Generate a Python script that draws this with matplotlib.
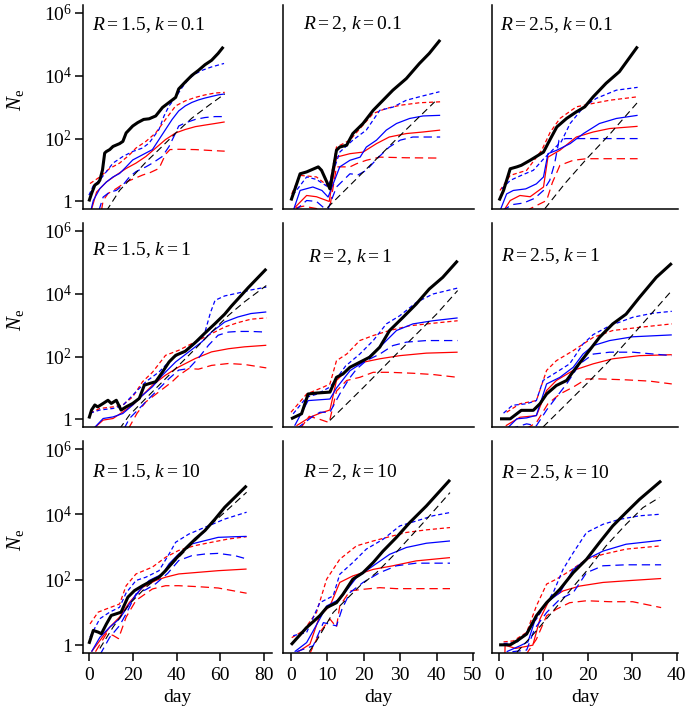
import numpy as np
import matplotlib
matplotlib.use("Agg")
import matplotlib.pyplot as plt

plt.rcParams['font.family'] = ['Liberation Serif', 'DejaVu Serif']
plt.rcParams['mathtext.fontset'] = 'custom'
plt.rcParams['mathtext.rm'] = 'Liberation Serif'
plt.rcParams['mathtext.it'] = 'Liberation Serif:italic'
plt.rcParams['lines.scale_dashes'] = False

# ---------------- data: (day, log10 N_e) ----------------
R_values = ['1.5', '2', '2.5']
k_values = ['0.1', '1', '10']
x_ticks = [[0, 20, 40, 60, 80], [0, 10, 20, 30, 40, 50], [0, 10, 20, 30, 40]]
y_ticks = [1, 1e2, 1e4, 1e6]
y_ticklabels = ['1', r'$10^2$', r'$10^4$', r'$10^6$']

# R=1.5, k=0.1
r15_k01_obs = [(0,0.0),(1.2,0.25),(2.7,0.52),(4.2,0.59),(5,0.68),(6.2,1.0),(7.2,1.54),(8,1.59),(9.5,1.65),(11,1.75),(14,1.84),(15.5,1.91),(17,2.18),(20,2.4),(22.3,2.51),(25,2.61),(27.5,2.63),(30.5,2.72),(33.6,2.99),(36.6,3.15),(39.6,3.31),(41,3.58),(44,3.8),(47,4.01),(50,4.17),(53,4.35),(56,4.49),(59,4.71),(61.4,4.92)]
r15_k01_det = [(8,-0.3),(14,0.35),(20,0.8),(26,1.25),(33,1.72),(40,2.2),(47,2.65),(55,3.07),(62,3.42)]
r15_k01_blue_med = [(0.5,-0.4),(2,0.03),(5,0.41),(8,0.62),(11,0.78),(14,0.89),(17,1.1),(20,1.32),(23,1.43),(26,1.54),(29,1.65),(32,1.97),(35,2.29),(38,2.61),(41,2.88),(44,3.04),(47,3.15),(50,3.23),(53,3.29),(56,3.34),(59,3.39),(62,3.42)]
r15_k01_blue_hi = [(0,0.2),(2,0.5),(5,0.68),(8,0.95),(11,1.22),(15.5,1.43),(20,1.59),(24.5,1.7),(27.5,1.86),(32,2.29),(34.3,2.72),(36.6,3.04),(39.6,3.31),(42.6,3.63),(45.6,3.9),(48.6,4.06),(51.6,4.17),(56,4.28),(61.7,4.39)]
r15_k01_blue_lo = [(4.5,-0.3),(6.5,0.14),(9.5,0.3),(12.5,0.35),(15.5,0.52),(18.5,0.78),(21.5,0.95),(26,1.1),(29,1.22),(33.5,1.43),(36.6,1.75),(39.6,2.18),(41,2.4),(44,2.5),(48.6,2.61),(53,2.67),(57.6,2.7),(62,2.7)]
r15_k01_red_med = [(1,-0.3),(3.5,0.3),(8,0.62),(12.5,0.84),(17,1.05),(21.5,1.22),(26,1.43),(30.5,1.7),(35,1.97),(39.6,2.18),(44,2.29),(48.6,2.38),(53,2.43),(57.6,2.48),(62,2.53)]
r15_k01_red_hi = [(0.5,0.57),(5,0.78),(9.5,1.05),(14,1.22),(18.5,1.48),(21.5,1.7),(26,1.91),(30.5,2.18),(35,2.61),(39.6,3.04),(44,3.2),(48.6,3.31),(53,3.39),(57.6,3.45),(62,3.47)]
r15_k01_red_lo = [(5.7,-0.3),(6.5,0.03),(8.7,0.25),(12.5,0.41),(17,0.62),(20.8,0.73),(24.5,0.84),(28,0.92),(32,1.05),(35,1.5),(37,1.65),(41,1.66),(48.6,1.65),(56,1.62),(62,1.6)]

# R=2, k=0.1
r2_k01_obs = [(0,0.03),(2.5,0.88),(4.3,0.94),(7.5,1.1),(8.4,0.99),(10.7,0.4),(12.5,1.63),(13.4,1.73),(15.3,1.79),(17,2.16),(19.8,2.48),(22.6,2.9),(25.3,3.22),(28,3.54),(31.7,3.91),(35.3,4.39),(38,4.71),(41,5.14)]
r2_k01_det = [(10,-0.2),(12,0.03),(20,0.95),(30,2.1),(39.5,3.17)]
r2_k01_blue_med = [(0.6,-0.3),(2.5,0.35),(6,0.46),(8.5,0.35),(10.2,0.14),(13.4,1.1),(16.2,1.31),(19,1.41),(20.7,1.73),(23.5,1.95),(26.2,2.27),(29,2.48),(32.6,2.64),(36.3,2.72),(41,2.74)]
r2_k01_blue_hi = [(0.5,0.2),(4.3,0.78),(7,0.7),(10.2,0.46),(13.4,1.57),(17,1.95),(20.7,2.27),(24.4,2.9),(28,3.0),(31.7,3.22),(35.3,3.33),(40.8,3.49)]
r2_k01_blue_lo = [(1,-0.3),(4.3,0.03),(7,0.0),(10,-0.3),(12.5,0.46),(16.2,0.88),(18.5,0.85),(20.7,0.99),(24,1.4),(27,1.73),(30,1.95),(33.5,2.05),(37,2.05),(41,2.05)]
r2_k01_red_med = [(1,-0.2),(4.3,0.19),(7,0.15),(10.5,0.0),(12.5,1.41),(16.2,1.52),(19.8,1.57),(23.5,1.84),(27,2.05),(31.7,2.16),(36.3,2.21),(41,2.27)]
r2_k01_red_hi = [(0.2,0.24),(2.5,0.83),(7,0.78),(10.5,0.46),(12.5,1.73),(16.2,1.95),(19.8,2.43),(22.6,2.8),(26.2,2.96),(30,3.06),(35.3,3.14),(41,3.17)]
r2_k01_red_lo = [(1.4,-0.2),(3.4,-0.15),(10.5,-0.3),(12.5,1.1),(16.2,1.1),(18,1.2),(20.7,1.31),(24.4,1.41),(31.7,1.39),(41,1.38)]

# R=2.5, k=0.1
r25_k01_obs = [(0,0.03),(1,0.35),(2.5,1.04),(4,1.1),(5,1.15),(7,1.31),(10,1.57),(11.4,1.95),(13,2.37),(15.2,2.64),(17.4,2.85),(19.3,3.01),(21.2,3.33),(24.1,3.76),(27.1,4.13),(31.2,4.93)]
r25_k01_det = [(10.3,-0.23),(15,0.6),(20,1.4),(25,2.15),(31.6,3.22)]
r25_k01_blue_med = [(0.2,-0.3),(1.7,0.24),(3.2,0.35),(6,0.4),(8.4,0.56),(10,0.78),(11,1.52),(13,1.63),(16,1.84),(19,2.16),(22.6,2.48),(26.4,2.64),(31.2,2.74)]
r25_k01_blue_hi = [(0.6,0.4),(2.5,0.67),(5,0.83),(7.7,0.99),(10,1.35),(12.5,1.7),(14,1.9),(16,2.48),(19,3.0),(21.9,3.28),(26.4,3.54),(31.2,3.63)]
r25_k01_blue_lo = [(0.6,-0.3),(3,-0.1),(5.5,-0.05),(8,0.1),(10,0.35),(11.4,0.67),(12.5,1.2),(13.5,1.95),(15,2.0),(18.2,2.0),(21.2,2.0),(26,2.0),(31.2,2.0)]
r25_k01_red_med = [(1,-0.3),(2.5,0.03),(4.7,0.19),(7,0.15),(10,0.46),(11,1.41),(13.7,1.63),(17.4,2.05),(21.2,2.21),(24.9,2.32),(31.2,2.39)]
r25_k01_red_hi = [(0.2,0.35),(2.5,0.83),(6.2,0.99),(9.6,1.63),(11.5,2.2),(13.7,2.64),(17.4,3.01),(21.2,3.12),(24.9,3.22),(31.2,3.33)]
r25_k01_red_lo = [(6,-0.3),(10.7,0.03),(12,0.6),(13.7,1.15),(16.7,1.31),(19.7,1.36),(24,1.36),(31.2,1.36)]

# R=1.5, k=1
r15_k1_obs = [(0,0.03),(1.2,0.3),(2.7,0.46),(4,0.4),(6.5,0.51),(8.7,0.61),(10.2,0.51),(12.5,0.61),(14.7,0.3),(17,0.4),(20,0.51),(23,0.67),(25.3,1.09),(27.5,1.14),(30.5,1.2),(33.6,1.51),(36.6,1.83),(39.6,2.04),(44,2.17),(48.6,2.45),(53,2.75),(57.6,3.05),(62,3.35),(65,3.6),(72.7,4.19),(81,4.79)]
r15_k1_det = [(14,-0.3),(18.5,0.14),(26,0.67),(33.6,1.2),(41,1.72),(48.6,2.25),(56,2.78),(63.7,3.31),(71,3.74),(81,4.26)]
r15_k1_blue_med = [(2,-0.3),(6.5,0.03),(11,0.08),(15.5,0.19),(20,0.46),(24.5,0.77),(29,1.04),(33.6,1.41),(39.6,1.83),(45.6,2.15),(51.6,2.47),(56,2.78),(62,3.1),(68,3.26),(74,3.37),(81,3.42)]
r15_k1_blue_hi = [(0.5,0.2),(5,0.3),(11,0.35),(15.5,0.45),(21.5,0.88),(26,1.2),(32,1.51),(38,1.94),(45.6,2.25),(51.6,2.6),(53,2.78),(55.5,3.4),(57.6,3.79),(62,3.93),(68,4.02),(74,4.12),(81,4.21)]
r15_k1_blue_lo = [(16,-0.3),(18.5,0.03),(23,0.35),(27.5,0.67),(32,0.98),(36.6,1.3),(41,1.57),(45.6,1.62),(50,1.95),(54.6,2.36),(59,2.68),(63.7,2.78),(68,2.8),(74,2.8),(81,2.78)]
r15_k1_red_med = [(2,-0.3),(6.5,-0.02),(11,0.03),(15.5,0.24),(20,0.46),(24.5,0.77),(29,1.09),(35,1.41),(41,1.67),(48.6,1.94),(56,2.15),(63.7,2.25),(71,2.31),(81,2.36)]
r15_k1_red_hi = [(0.5,0.2),(5,0.35),(11,0.4),(15.5,0.46),(20,0.72),(24.5,1.2),(29,1.5),(35,2.04),(41,2.2),(48.6,2.47),(56,2.73),(62,2.94),(68,3.08),(74,3.19),(81,3.23)]
r15_k1_red_lo = [(18,-0.3),(22,0.2),(26,0.56),(32,0.88),(38,1.2),(41,1.4),(45.6,1.62),(50,1.6),(56,1.72),(63.7,1.78),(71,1.75),(81,1.64)]

# R=2, k=1
r2_k1_obs = [(0,0.02),(2.9,0.18),(4.7,0.81),(7,0.84),(10.7,0.87),(12.5,1.34),(14.3,1.45),(16.2,1.66),(18.9,1.82),(21.6,1.98),(24.4,2.3),(27.1,2.83),(30.8,3.25),(34.4,3.67),(38,4.15),(41.7,4.52),(45.8,5.05)]
r2_k1_det = [(10.7,-0.03),(20,1.03),(30,2.2),(40,3.35),(45.8,4.1)]
r2_k1_blue_med = [(1,-0.2),(4.7,0.6),(10.7,0.65),(12.5,1.0),(16.2,1.55),(19.8,1.82),(24.4,2.3),(29,2.83),(33.5,3.04),(39,3.14),(45.8,3.23)]
r2_k1_blue_hi = [(0.6,0.18),(4.3,0.71),(7,0.8),(10.7,1.03),(12.5,1.3),(15,1.7),(18.9,2.08),(22.6,2.51),(26.2,3.04),(29.9,3.3),(34.4,3.72),(39,3.99),(45.8,4.18)]
r2_k1_blue_lo = [(1.5,-0.3),(6,0.1),(8,0.23),(10.7,0.23),(13.4,0.81),(16,1.3),(18,1.6),(20.7,1.87),(24.4,2.08),(28,2.35),(31.7,2.46),(37.2,2.51),(45.8,2.51)]
r2_k1_red_med = [(1.5,-0.2),(5.2,0.07),(8,0.2),(10.7,0.3),(12.5,1.24),(16.2,1.66),(19.8,1.82),(24.4,1.93),(29.9,2.03),(37.2,2.11),(45.8,2.14)]
r2_k1_red_hi = [(0,0.23),(4.3,0.81),(8.9,1.03),(10.7,1.13),(12.5,1.87),(15.3,2.08),(18.9,2.51),(22.6,2.67),(27.1,2.83),(32.6,2.98),(39,3.06),(45.8,3.14)]
r2_k1_red_lo = [(2.5,-0.3),(5,0.1),(8,0.0),(10.5,-0.1),(12.5,0.9),(15.3,1.24),(18.9,1.34),(22.6,1.5),(27.1,1.5),(33.5,1.47),(39,1.43),(45.8,1.34)]

# R=2.5, k=1
r25_k1_obs = [(0.2,0.02),(2.5,0.02),(5,0.29),(7.7,0.29),(9.2,0.5),(10.7,0.81),(12.9,1.08),(15.2,1.24),(17.4,1.66),(19.7,2.08),(22.6,2.61),(25.6,3.04),(28.6,3.35),(31.6,3.88),(35.4,4.52),(38.9,4.97)]
r25_k1_det = [(9.9,-0.24),(13.7,0.29),(19.7,1.13),(25.6,1.98),(31.6,2.93),(38.9,4.1)]
r25_k1_blue_med = [(1.7,-0.3),(4,0.02),(6.2,0.05),(8.4,0.13),(10.7,1.13),(13.7,1.34),(16.7,1.66),(18.9,2.08),(21.2,2.35),(24.9,2.51),(30.1,2.63),(38.9,2.69)]
r25_k1_blue_hi = [(1,0.2),(3,0.45),(6.2,0.5),(8.4,0.6),(9.9,1.24),(12.9,1.5),(15.9,1.77),(18.9,2.4),(21.2,2.7),(24.9,2.98),(30.1,3.25),(34.6,3.38),(38.9,3.44)]
r25_k1_blue_lo = [(2.5,-0.3),(6.2,-0.14),(8.4,-0.2),(10.7,0.3),(12.9,0.71),(15.2,1.13),(18.2,1.77),(21.2,2.08),(24.9,2.14),(30.1,2.14),(38.9,2.03)]
r25_k1_red_med = [(1.5,-0.2),(4.7,0.07),(8.4,0.12),(10.7,0.92),(12.9,1.24),(16.7,1.56),(21.2,1.77),(25.6,1.93),(31.6,2.03),(38.9,2.06)]
r25_k1_red_hi = [(1.7,0.23),(4.7,0.5),(8.4,0.6),(10.7,1.56),(12.9,1.87),(16.7,2.19),(21.2,2.61),(25.6,2.83),(31.6,2.93),(38.9,3.04)]
r25_k1_red_lo = [(6,-0.3),(8.4,-0.1),(11,0.5),(13.7,0.81),(16.7,1.03),(19.7,1.29),(22.6,1.29),(28.6,1.26),(33.9,1.22),(38.9,1.13)]

# R=1.5, k=10
r15_k10_obs = [(0,0.04),(2,0.45),(4.2,0.4),(5.7,0.35),(8,0.65),(10.2,0.91),(12.5,0.96),(14.7,1.01),(17.8,1.47),(20.8,1.67),(24.5,1.82),(29,1.98),(32,2.08),(35,2.28),(39.6,2.64),(44,2.95),(48.6,3.25),(53,3.51),(57.6,3.86),(62,4.22),(66.7,4.53),(72,4.88)]
r15_k10_det = [(5,-0.1),(11,0.55),(18.5,1.26),(26,1.77),(33.6,2.18),(41,2.69),(48.6,3.2),(56,3.71),(63.7,4.17),(72,4.68)]
r15_k10_blue_med = [(1.2,-0.2),(5,0.24),(9.5,0.55),(14,0.81),(18.5,1.26),(23,1.67),(27.5,1.98),(33.6,2.18),(36.6,2.49),(41,2.79),(47,3.1),(53,3.2),(59,3.3),(66.7,3.32),(72,3.33)]
r15_k10_blue_hi = [(0.5,0.25),(5,0.81),(9.5,1.01),(14,1.16),(17,1.6),(21.5,1.98),(26,2.08),(32,2.28),(36.6,2.79),(39.6,3.15),(45.6,3.4),(53,3.61),(56,3.69),(62,3.86),(72,4.07)]
r15_k10_blue_lo = [(5,-0.3),(9.5,0.24),(14,0.6),(17,0.96),(21.5,1.57),(26,1.7),(30.5,1.88),(36,2.2),(41,2.59),(47,2.74),(53,2.79),(59,2.81),(66.7,2.74),(72,2.64)]
r15_k10_red_med = [(1.2,-0.2),(5,0.14),(9.5,0.55),(14,0.86),(18.5,1.31),(24.5,1.77),(30.5,1.98),(35,2.08),(41,2.18),(50,2.23),(59,2.28),(72,2.33)]
r15_k10_red_hi = [(0.5,0.65),(4.2,1.01),(8,1.11),(14,1.26),(17,1.82),(21.5,2.18),(29,2.39),(35,2.69),(41,2.9),(48.6,3.05),(56,3.15),(63.7,3.25),(72,3.32)]
r15_k10_red_lo = [(3,-0.2),(8,0.35),(11,0.3),(13.5,0.2),(17,0.86),(21.5,1.37),(29,1.72),(35,1.82),(41,1.82),(50,1.79),(59,1.75),(72,1.59)]

# R=2, k=10
r2_k10_obs = [(0,0.01),(4.3,0.54),(7.9,0.9),(9.8,1.15),(12.5,1.3),(14.3,1.56),(17,2.02),(19.8,2.22),(22.6,2.53),(25.3,2.88),(28.9,3.29),(32.6,3.75),(37.2,4.26),(43.7,5.06)]
r2_k10_det = [(5,-0.2),(7,0.13),(11.6,1.0),(15.3,1.41),(18.9,1.81),(23.5,2.22),(28,2.73),(32.6,3.29),(37.2,3.85),(43.7,4.67)]
r2_k10_blue_med = [(1,-0.2),(4.3,0.08),(7.9,0.8),(9.8,1.2),(13.4,1.41),(18,2.07),(22.6,2.43),(27.1,2.78),(31.7,2.99),(37.2,3.12),(43.7,3.19)]
r2_k10_blue_hi = [(0.6,0.29),(4.3,0.39),(7.9,1.3),(11.6,1.51),(13.4,2.17),(17,2.53),(20.7,2.94),(25.3,3.24),(29.9,3.65),(34.4,3.8),(39,3.96),(43.7,4.06)]
r2_k10_blue_lo = [(1.5,-0.2),(6.1,-0.02),(8.9,0.69),(12.5,0.59),(14,1.1),(16.2,1.61),(19.8,1.92),(24.4,2.22),(29,2.43),(34.4,2.51),(43.7,2.51)]
r2_k10_red_med = [(2,-0.2),(5.2,0.03),(7.9,0.9),(10.7,1.2),(13.4,1.92),(17,2.12),(22.6,2.32),(28,2.43),(34.4,2.58),(43.7,2.68)]
r2_k10_red_hi = [(0.2,0.23),(3.4,0.44),(7,1.0),(9.8,2.02),(13.4,2.63),(18,3.04),(22.6,3.19),(27.1,3.32),(31.7,3.45),(37.2,3.53),(43.7,3.6)]
r2_k10_red_lo = [(5,-0.3),(7.9,0.39),(10.7,0.8),(12.5,0.55),(13.4,1.2),(16.2,1.66),(19.8,1.71),(24.4,1.76),(29,1.73),(34.4,1.73),(43.7,1.73)]

# R=2.5, k=10
r25_k10_obs = [(0,0.01),(2.5,0.01),(4,0.13),(6.2,0.34),(8.4,0.9),(10.7,1.3),(13.7,1.71),(16.7,2.22),(19.7,2.63),(22.6,3.14),(25.6,3.65),(28.6,4.06),(31.6,4.46),(36.5,5.03)]
r25_k10_det = [(4,-0.22),(8.4,0.44),(12.2,1.05),(15.9,1.66),(19.7,2.27),(24.1,3.04),(28.6,3.7),(32.4,4.21),(36.1,4.52)]
r25_k10_blue_med = [(1.7,-0.2),(4.7,-0.02),(6.5,0.1),(8.4,0.9),(10.7,1.3),(13.7,1.61),(16.7,2.32),(19.7,2.63),(23.4,2.88),(28.6,3.09),(36.5,3.21)]
r25_k10_blue_hi = [(1,0.05),(4,0.08),(6.2,0.39),(8.4,0.8),(12.2,1.61),(14.4,2.32),(16.7,2.83),(19.7,3.45),(23.4,3.7),(27.1,3.85),(31.6,3.96),(36.5,4.01)]
r25_k10_blue_lo = [(3,-0.2),(6.2,-0.15),(8,0.5),(10.7,1.0),(13.7,1.41),(16.7,1.61),(19.7,2.22),(23.4,2.43),(28.6,2.46),(36.5,2.46)]
r25_k10_red_med = [(1.3,-0.3),(1.35,0.0),(3.7,-0.1),(7.6,0.0),(9.2,0.8),(11.4,1.41),(14.4,1.66),(18.2,1.81),(23.4,1.92),(28.6,1.97),(36.5,2.04)]
r25_k10_red_hi = [(1,0.1),(3.2,0.13),(6.2,0.39),(8.4,1.2),(10.7,1.87),(12.9,2.02),(15.9,2.27),(19.7,2.63),(23.4,2.78),(28.6,2.94),(36.5,3.04)]
r25_k10_red_lo = [(6,-0.3),(8.4,0.18),(10.7,0.9),(12.9,1.1),(15.9,1.3),(19.7,1.36),(24.9,1.33),(30.1,1.33),(36.5,1.15)]

panels = [
    [dict(obs=r15_k01_obs, det=r15_k01_det, bm=r15_k01_blue_med, bh=r15_k01_blue_hi, bl=r15_k01_blue_lo, rm=r15_k01_red_med, rh=r15_k01_red_hi, rl=r15_k01_red_lo),
     dict(obs=r2_k01_obs, det=r2_k01_det, bm=r2_k01_blue_med, bh=r2_k01_blue_hi, bl=r2_k01_blue_lo, rm=r2_k01_red_med, rh=r2_k01_red_hi, rl=r2_k01_red_lo),
     dict(obs=r25_k01_obs, det=r25_k01_det, bm=r25_k01_blue_med, bh=r25_k01_blue_hi, bl=r25_k01_blue_lo, rm=r25_k01_red_med, rh=r25_k01_red_hi, rl=r25_k01_red_lo)],
    [dict(obs=r15_k1_obs, det=r15_k1_det, bm=r15_k1_blue_med, bh=r15_k1_blue_hi, bl=r15_k1_blue_lo, rm=r15_k1_red_med, rh=r15_k1_red_hi, rl=r15_k1_red_lo),
     dict(obs=r2_k1_obs, det=r2_k1_det, bm=r2_k1_blue_med, bh=r2_k1_blue_hi, bl=r2_k1_blue_lo, rm=r2_k1_red_med, rh=r2_k1_red_hi, rl=r2_k1_red_lo),
     dict(obs=r25_k1_obs, det=r25_k1_det, bm=r25_k1_blue_med, bh=r25_k1_blue_hi, bl=r25_k1_blue_lo, rm=r25_k1_red_med, rh=r25_k1_red_hi, rl=r25_k1_red_lo)],
    [dict(obs=r15_k10_obs, det=r15_k10_det, bm=r15_k10_blue_med, bh=r15_k10_blue_hi, bl=r15_k10_blue_lo, rm=r15_k10_red_med, rh=r15_k10_red_hi, rl=r15_k10_red_lo),
     dict(obs=r2_k10_obs, det=r2_k10_det, bm=r2_k10_blue_med, bh=r2_k10_blue_hi, bl=r2_k10_blue_lo, rm=r2_k10_red_med, rh=r2_k10_red_hi, rl=r2_k10_red_lo),
     dict(obs=r25_k10_obs, det=r25_k10_det, bm=r25_k10_blue_med, bh=r25_k10_blue_hi, bl=r25_k10_blue_lo, rm=r25_k10_red_med, rh=r25_k10_red_hi, rl=r25_k10_red_lo)],
]

# ---------------- layout (figure pixels) ----------------
W, H = 686, 711
col_px = [(83, 272), (283, 474), (492, 678)]
row_px = [(5, 209), (223, 427), (441, 653)]
xlims = [(-2.7, 83.6), (-2.2, 50.3), (-1.6, 40.3)]
ylims = (10 ** -0.24, 10 ** 6.25)
title_px = [[(92, 25), (303, 24), (500, 25)],
            [(92, 250), (308, 257), (501, 256)],
            [(92, 472), (303, 472), (501, 473)]]
ylabel_px = [(16, 100), (16, 320), (16, 540)]
xlabel_y_px = 697

styles = {
    'rl': dict(color='red', lw=0.9, dashes=(6, 3.5)),
    'rh': dict(color='red', lw=0.9, dashes=(3, 2)),
    'rm': dict(color='red', lw=0.9, ls='-'),
    'bl': dict(color='blue', lw=0.9, dashes=(6, 3.5)),
    'bh': dict(color='blue', lw=0.9, dashes=(3, 2)),
    'bm': dict(color='blue', lw=0.9, ls='-'),
    'det': dict(color='black', lw=0.8, dashes=(5, 3)),
    'obs': dict(color='black', lw=2.2, ls='-'),
}

fig = plt.figure(figsize=(W / 100, H / 100), dpi=100)
tick_fs = 14

for i in range(3):
    for j in range(3):
        x0, x1 = col_px[j]
        y0, y1 = row_px[i]
        ax = fig.add_axes([x0 / W, 1 - y1 / H, (x1 - x0) / W, (y1 - y0) / H])
        ax.set_yscale('log')
        ax.set_xlim(*xlims[j])
        ax.set_ylim(*ylims)
        for s in ['top', 'right']:
            ax.spines[s].set_visible(False)
        for s in ['left', 'bottom']:
            ax.spines[s].set_linewidth(1.1)
        ax.minorticks_off()
        p = panels[i][j]
        for key in ['rl', 'rh', 'rm', 'bl', 'bh', 'bm', 'det', 'obs']:
            arr = np.array(p[key], dtype=float)
            ax.plot(arr[:, 0], 10 ** arr[:, 1], solid_capstyle='butt', **styles[key])
        # y axis
        if j == 0:
            ax.set_yticks(y_ticks)
            ax.set_yticklabels(y_ticklabels, fontsize=tick_fs)
            ax.tick_params(axis='y', direction='out', length=6, width=1.1, pad=2)
            lx, ly = ylabel_px[i]
            fig.text(lx / W, 1 - ly / H, r'$N_\mathrm{e}$', fontsize=15,
                     rotation=90, ha='center', va='center')
        else:
            ax.set_yticks([])
        # x axis
        if i == 2:
            ax.set_xticks(x_ticks[j])
            ax.set_xticklabels([str(t) for t in x_ticks[j]], fontsize=tick_fs)
            ax.tick_params(axis='x', direction='out', length=6, width=1.1, pad=4)
            fig.text((x0 + x1) / 2 / W, 1 - xlabel_y_px / H, 'day', fontsize=tick_fs,
                     ha='center', va='center')
        else:
            ax.set_xticks([])
        tx, ty = title_px[i][j]
        fig.text(tx / W, 1 - ty / H, r'$R=%s$, $k=%s$' % (R_values[j], k_values[i]),
                 fontsize=14, ha='left', va='center')

fig.savefig('out.png', dpi=100)
